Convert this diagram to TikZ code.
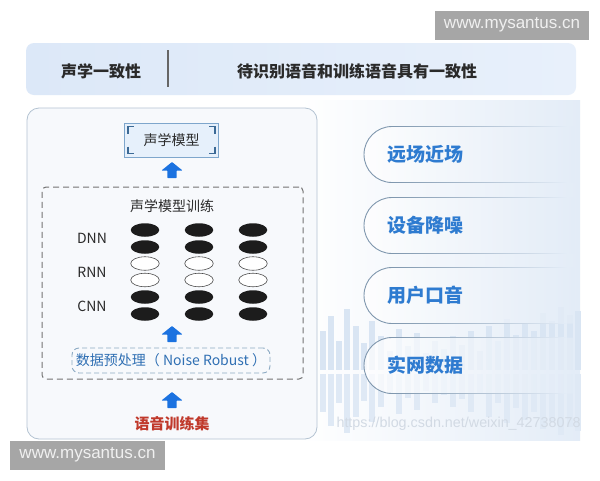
\documentclass[tikz,border=0pt]{standalone}
\usepackage{fontspec}
\usepackage{graphicx}
\setmainfont{Noto Sans CJK SC}
\newfontfamily\wmfont{Liberation Sans}
\usetikzlibrary{shapes.geometric}
\definecolor{bannerL}{HTML}{DCE8F8}
\definecolor{bannerR}{HTML}{E8F0FB}
\definecolor{darktext}{HTML}{2A2A2A}
\definecolor{panelfill}{HTML}{F7F9FC}
\definecolor{panelline}{HTML}{B4C3D2}
\definecolor{arrowblue}{HTML}{1B72E0}
\definecolor{redtext}{HTML}{C0392B}
\definecolor{noiseblue}{HTML}{2F6FB3}
\definecolor{noiseline}{HTML}{8CAAC3}
\definecolor{pillblue}{HTML}{2E7BD0}
\definecolor{pillline}{HTML}{7F97AE}
\definecolor{bgblue}{HTML}{E3ECF7}
\definecolor{barc}{HTML}{D9E5F3}
\definecolor{wmgrey}{HTML}{A6A6A6}
\definecolor{ellblack}{HTML}{1C1C1C}
\definecolor{modelfill}{HTML}{E6F0FB}
\definecolor{modelline}{HTML}{7EA6CC}
\definecolor{bracketc}{HTML}{3C6A96}
\definecolor{csdnc}{HTML}{D2DAE4}
\tikzset{
  fs/.style={font=\fontsize{#1}{#1}\selectfont},
  darkell/.style={ellipse, fill=ellblack, minimum width=28.5pt, minimum height=13.5pt, inner sep=0pt},
  lightell/.style={ellipse, draw=black!70, line width=0.6pt, fill=white, minimum width=28.5pt, minimum height=13.5pt, inner sep=0pt},
  netlabel/.style={fs=14, text=darktext},
  pilltext/.style={font=\bfseries\fontsize{19}{19}\selectfont, text=pillblue, anchor=west},
  wmbox/.style={fill=wmgrey, text=white!94!black, font=\wmfont\fontsize{17}{17}\selectfont, inner sep=0pt, minimum height=29pt},
  uparrow/.pic={\fill[arrowblue, rounded corners=0.6pt] (0,0) -- (10.5,8.5) -- (4.6,8.5) -- (4.6,16) -- (-4.6,16) -- (-4.6,8.5) -- (-10.5,8.5) -- cycle;}
}
\begin{document}
\begin{tikzpicture}[x=1pt,y=-1pt]
\useasboundingbox (0,0) rectangle (600,480);
\fill[white] (0,0) rectangle (600,480);
% right background
\shade[left color=white, right color=bgblue] (300,100) rectangle (580,440);
% sound wave bars
\foreach \x/\h in {323/40,331/55,339/30,347/62,356/45,364/28,372/50,381/35,390/20,399/42,408/25,417/38,426/18,435/30,444/22,453/35,462/26,471/40,480/20,489/45,498/30,507/52,516/36,525/48,534/40,543/58,552/50,561/64,570/56,578/60}{
  \fill[barc] (\x-2.6,371-\h) rectangle (\x+2.6,370);
  \fill[barc!85!white] (\x-2.6,374) rectangle (\x+2.6,374+0.95*\h);
}
% top banner
\shade[left color=bannerL, right color=bannerR, rounded corners=8pt] (26,43) rectangle (576,95);
\draw[black!60, line width=1.2pt] (168,50) -- (168,87);
\node[font=\bfseries\fontsize{16}{16}\selectfont, text=darktext] (t1) at (101,71) {声学一致性};
\node[font=\bfseries\fontsize{16}{16}\selectfont, text=darktext] (t2) at (357,71) {待识别语音和训练语音具有一致性};
% left panel
\draw[fill=panelfill, draw=panelline, line width=0.8pt, rounded corners=12pt] (27,108) rectangle (317,439);
% model box
\node[draw=modelline, fill=modelfill, line width=1pt, minimum width=94pt, minimum height=34pt, inner sep=0pt, fs=14, text=darktext] (model) at (171.5,140) {声学模型};
\foreach \a/\sx/\sy in {north west/1/1, north east/-1/1, south west/1/-1, south east/-1/-1}{
  \draw[bracketc, line width=1.1pt] ([shift={(4*\sx,11*\sy)}]model.\a) -- ([shift={(4*\sx,4*\sy)}]model.\a) -- ([shift={(10*\sx,4*\sy)}]model.\a);
}
\pic at (172,162) {uparrow};
% dashed training box
\node[draw=black!55, dash pattern=on 6pt off 4pt, line width=1pt, rounded corners=4pt, minimum width=261pt, minimum height=192pt, inner sep=0pt] (train) at (172.5,283) {};
\node[fs=14, text=darktext] (traintitle) at (172,206) {声学模型训练};
\node[netlabel] (dnn) at (92,238) {DNN};
\node[netlabel] (rnn) at (92,272) {RNN};
\node[netlabel] (cnn) at (92,306) {CNN};
\foreach \c/\x in {1/145,2/199,3/253}{
  \node[darkell] (e1\c) at (\x,230) {};
  \node[darkell] (e2\c) at (\x,247) {};
  \node[lightell] (e3\c) at (\x,263.5) {};
  \node[lightell] (e4\c) at (\x,280) {};
  \node[darkell] (e5\c) at (\x,297) {};
  \node[darkell] (e6\c) at (\x,314) {};
}
\pic at (172,326) {uparrow};
\node[draw=noiseline, dash pattern=on 5pt off 3pt, line width=0.9pt, rounded corners=7pt, minimum width=198pt, minimum height=25pt, inner sep=0pt, fs=14, text=noiseblue] (noise) at (171,360.5) {数据预处理（ Noise Robust ）};
\pic at (172,392) {uparrow};
\node[font=\bfseries\fontsize{15}{15}\selectfont, text=redtext] (data) at (172,424) {语音训练集};
% pills
\foreach \n/\yt/\txt in {1/126.5/远场近场, 2/197.5/设备降噪, 3/267.5/用户口音, 4/337.5/实网数据}{
  \shade[left color=white, right color=bgblue, fill opacity=0.75] (392,\yt) -- (574,\yt) -- (574,\yt+56) -- (392,\yt+56) arc[start angle=90, end angle=270, radius=28] -- cycle;
  \draw[pillline, line width=0.9pt] (392,\yt+56) arc[start angle=90, end angle=270, radius=28];
  \shade[left color=pillline, right color=bgblue] (392,\yt-0.45) rectangle (566,\yt+0.45);
  \shade[left color=pillline, right color=bgblue] (392,\yt+55.55) rectangle (566,\yt+56.45);
  \node[pilltext] (p\n) at (384,\yt+28) {\txt};
}
% watermarks
\node[text=csdnc, font=\wmfont, anchor=west] (csdn) at (333,424) {\resizebox{244pt}{!}{https://blog.csdn.net/weixin\_42738078}};
\node[wmbox, minimum width=154pt] (wm1) at (512,25) {www.mysantus.cn};
\node[wmbox, minimum width=155pt] (wm2) at (87.5,455) {www.mysantus.cn};
\end{tikzpicture}
\end{document}
